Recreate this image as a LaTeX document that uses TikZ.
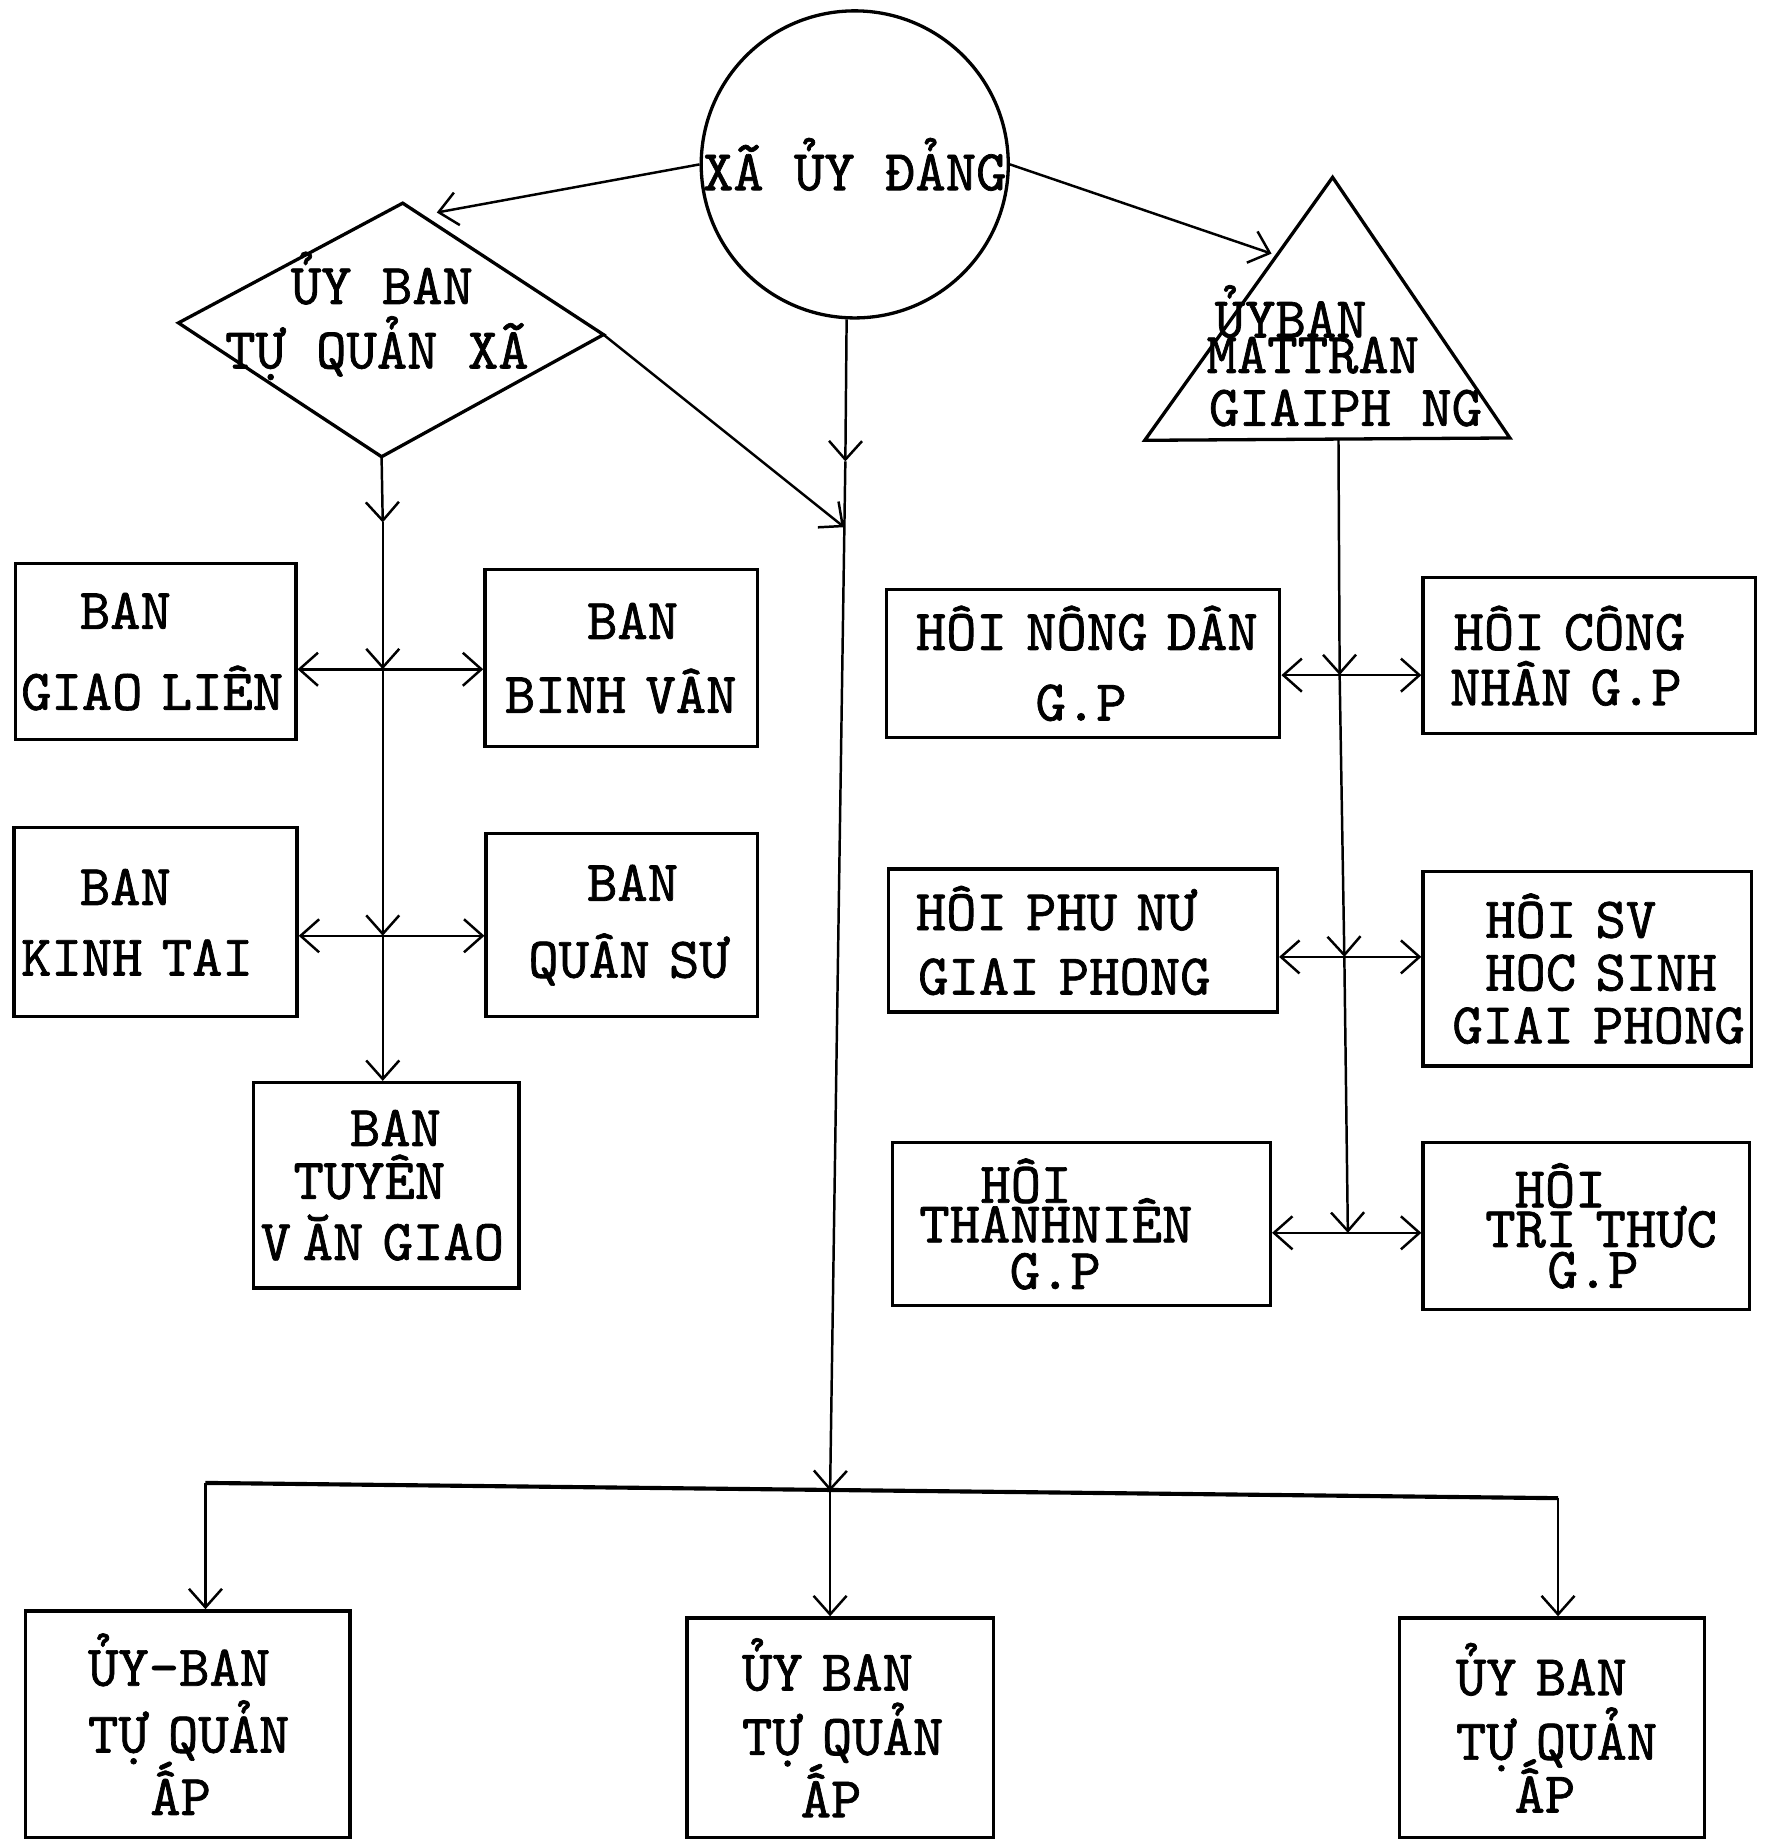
\documentclass[tikz,border=0pt]{standalone}
\usepackage{fontspec}
\newfontfamily\tyfam{lmmono10-regular.otf}[FakeBold=1.2]
\usetikzlibrary{arrows.meta,calc}
\newlength{\pxu}\setlength{\pxu}{0.01cm}
\begin{document}
\begin{tikzpicture}[x=0.01cm,y=-0.01cm,
  tyf/.style={font={\tyfam\fontsize{14}{15.6}\selectfont\lineskiplimit=-30pt}},
  box/.style={draw, line width=0.8pt, rectangle, inner sep=0pt, align=left, tyf},
  lbl/.style={inner sep=0pt, align=left, tyf},
  outl/.style={line width=0.8pt, line join=miter},
  arr/.style={line width=0.6pt, -{Straight Barb[length=4.5pt,width=8pt]}},
  bus/.style={line width=1pt}]
\useasboundingbox (0,0) rectangle (1508,1568);

% ---- top: circle
\node[circle, draw, line width=0.8pt, inner sep=0pt, minimum size=260\pxu, tyf] (xu) at (728,140) {XÃ ỦY ĐẢNG};

% ---- diamond
\coordinate (dT) at (343,173);
\coordinate (dL) at (152,275);
\coordinate (dR) at (514,285);
\coordinate (dB) at (325,389);
\draw[outl] (dT) -- (dR) -- (dB) -- (dL) -- cycle;
\node[lbl] (dtx) at (321,269) {\hspace*{56\pxu}ỦY BAN\\TỰ QUẢN XÃ};

% ---- triangle
\coordinate (tA) at (1135,151);
\coordinate (tB) at (975,375);
\coordinate (tC) at (1286,373);
\draw[outl] (tA) -- (tC) -- (tB) -- cycle;
\node[lbl] (ttx) at (1145,303) {\hspace*{7\pxu}ỦYBAN\\[-7pt]MATTRAN\\[-2.8pt]\hspace*{2\pxu}GIAIPH NG};

% ---- left column boxes
\node[box, text width=239\pxu, minimum height=150\pxu] (gl) at (132.5,555) {\hspace*{55\pxu}BAN\\[4pt]\hspace*{5\pxu}GIAO LIÊN};
\node[box, text width=232\pxu, minimum height=151\pxu] (bv) at (529,560.5) {\hspace*{87\pxu}BAN\\[2.3pt]\hspace*{17\pxu}BINH VÂN};
\node[box, text width=241\pxu, minimum height=161\pxu] (kt) at (132.5,785.5) {\hspace*{56\pxu}BAN\\[1.5pt]\hspace*{6\pxu}KINH TAI};
\node[box, text width=231\pxu, minimum height=156\pxu] (qs) at (529.5,788) {\hspace*{86\pxu}BAN\\[3pt]\hspace*{36\pxu}QUÂN SƯ};
\node[box, text width=226\pxu, minimum height=175\pxu] (tv) at (329,1009.5) {\hspace*{82\pxu}BAN\\[-2.8pt]\hspace*{34\pxu}TUYÊN\\[-0.8pt]\hspace*{6\pxu}V\hspace{10\pxu}ĂN GIAO};

% ---- right column boxes
\node[box, text width=335\pxu, minimum height=126\pxu] (nd) at (922.5,565) {\hspace*{25\pxu}HÔI NÔNG DÂN\\[1.5pt]\hspace*{127\pxu}G.P};
\node[box, text width=283\pxu, minimum height=133\pxu] (cn) at (1353.5,558.5) {\hspace*{26\pxu}HÔI CÔNG\\[-2.2pt]\hspace*{23\pxu}NHÂN G.P};
\node[box, text width=331\pxu, minimum height=122\pxu] (pn) at (922.5,801) {\hspace*{23\pxu}HÔI PHU NƯ\\\hspace*{25\pxu}GIAI PHONG};
\node[box, text width=280\pxu, minimum height=166\pxu] (sv) at (1352,825) {\hspace*{53\pxu}HÔI SV\\[-2.8pt]\hspace*{53\pxu}HOC SINH\\[-2.8pt]\hspace*{25\pxu}GIAI PHONG};
\node[box, text width=322\pxu, minimum height=139\pxu] (tn) at (921,1042.5) {\hspace*{75\pxu}HÔI\\[-6pt]\hspace*{23\pxu}THANHNIÊN\\[-4.3pt]\hspace*{100\pxu}G.P};
\node[box, text width=278\pxu, minimum height=142\pxu] (tt) at (1351,1044) {\hspace*{78\pxu}HÔI\\[-6pt]\hspace*{53\pxu}TRI THƯC\\[-5.7pt]\hspace*{106\pxu}G.P};

% ---- bottom boxes
\node[box, text width=276\pxu, minimum height=193\pxu] (a1) at (160,1468.5) {\hspace*{53\pxu}ỦY-BAN\\[0.6pt]\hspace*{53\pxu}TỰ QUẢN\\[-0.5pt]\hspace*{106\pxu}ẤP};
\node[box, text width=261\pxu, minimum height=187\pxu] (a2) at (715.5,1471.5) {\hspace*{47\pxu}ỦY BAN\\\hspace*{47\pxu}TỰ QUẢN\\[-0.5pt]\hspace*{97\pxu}ẤP};
\node[box, text width=260\pxu, minimum height=187\pxu] (a3) at (1322,1471.5) {\hspace*{48\pxu}ỦY BAN\\\hspace*{48\pxu}TỰ QUẢN\\[-2.8pt]\hspace*{98\pxu}ẤP};

% ---- connectors from the circle
\coordinate (dIn) at (372,181);
\coordinate (tIn) at (1083,216);
\draw[arr] (xu.west) -- (dIn);
\draw[arr] (xu.east) -- (tIn);

% ---- central spine
\coordinate (m1) at (720,393);
\coordinate (m2) at (719,449);
\coordinate (jb) at (707,1270);
\draw[arr] (xu.-93) -- (m1);
\draw[arr] (m1) -- (jb);
\draw[arr] (dR) -- (m2);

% ---- bottom bus
\coordinate (jL) at (175,1263);
\coordinate (jR) at (1327,1276);
\draw[bus] (jL) -- (jR);
\draw[arr] (jL) -- (jL |- a1.north);
\draw[arr] (jb) -- (jb |- a2.north);
\draw[arr] (jR) -- (jR |- a3.north);

% ---- left spine
\coordinate (l1) at (326,445);
\coordinate (lj1) at (326,570);
\coordinate (lj2) at (326,797);
\draw[arr] (dB) -- (l1);
\draw[arr] (l1) -- (lj1);
\draw[arr] (lj1) -- (lj2);
\draw[arr] (lj2) -- (lj2 |- tv.north);
\draw[arr] (lj1) -- (lj1 -| gl.east);
\draw[arr] (lj1) -- (lj1 -| bv.west);
\draw[arr] (lj2) -- (lj2 -| kt.east);
\draw[arr] (lj2) -- (lj2 -| qs.west);

% ---- right spine
\coordinate (tM) at (1140,374);
\coordinate (rj1) at (1141,575);
\coordinate (rj2) at (1145,815);
\coordinate (rj3) at (1148,1050);
\draw[arr] (tM) -- (rj1);
\draw[arr] (rj1) -- (rj2);
\draw[arr] (rj2) -- (rj3);
\draw[arr] (rj1) -- (rj1 -| nd.east);
\draw[arr] (rj1) -- (rj1 -| cn.west);
\draw[arr] (rj2) -- (rj2 -| pn.east);
\draw[arr] (rj2) -- (rj2 -| sv.west);
\draw[arr] (rj3) -- (rj3 -| tn.east);
\draw[arr] (rj3) -- (rj3 -| tt.west);
\end{tikzpicture}
\end{document}
